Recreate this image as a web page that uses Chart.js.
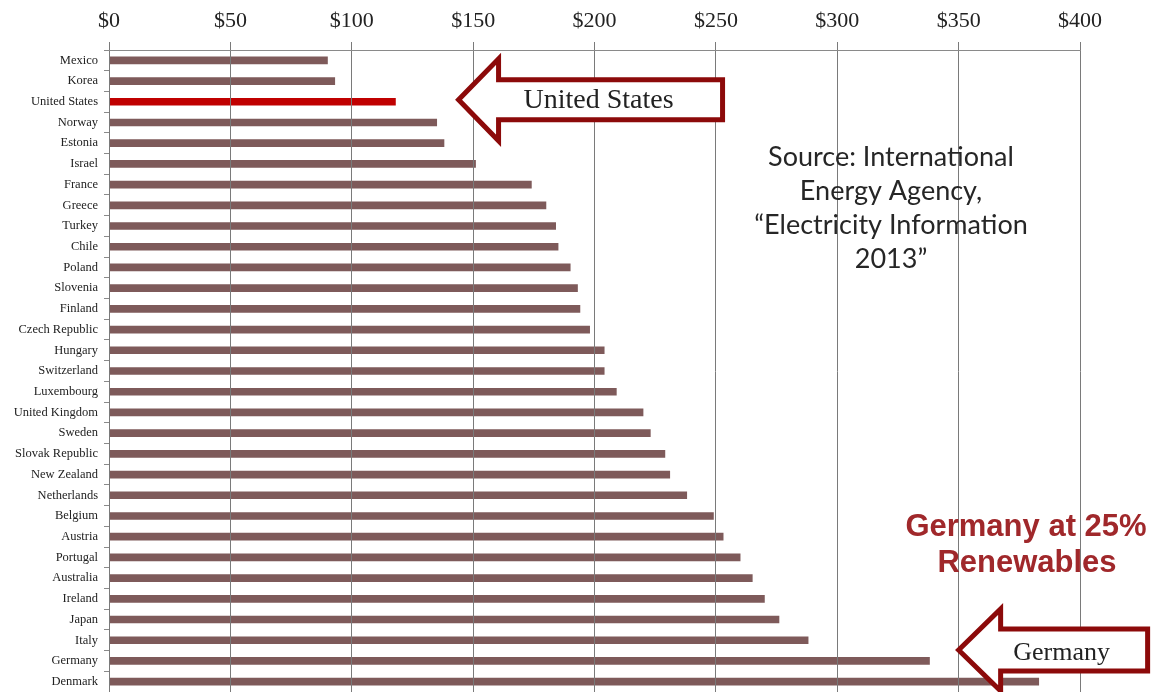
<!DOCTYPE html>
<html>
<head>
<meta charset="utf-8">
<script src="https://cdn.jsdelivr.net/npm/chart.js@4/dist/chart.umd.min.js"></script>
<style>
  html, body { margin: 0; padding: 0; background: #fff; overflow: hidden; }
  #wrap { width: 1154px; height: 692px; position: relative; }
</style>
</head>
<body>
<div id="wrap"><canvas id="c" width="1154" height="692"></canvas></div>
<script>
// Residential electricity price by country, dollars per MWh
const countries = [
  'Mexico', 'Korea', 'United States', 'Norway', 'Estonia', 'Israel', 'France',
  'Greece', 'Turkey', 'Chile', 'Poland', 'Slovenia', 'Finland', 'Czech Republic',
  'Hungary', 'Switzerland', 'Luxembourg', 'United Kingdom', 'Sweden',
  'Slovak Republic', 'New Zealand', 'Netherlands', 'Belgium', 'Austria',
  'Portugal', 'Australia', 'Ireland', 'Japan', 'Italy', 'Germany', 'Denmark'
];
const prices = [
  90, 93, 118, 135, 138, 151, 174,
  180, 184, 185, 190, 193, 194, 198,
  204, 204, 209, 220, 223,
  229, 231, 238, 249, 253,
  260, 265, 270, 276, 288, 338, 383
];
const highlighted = 'United States';
const axisMin = 0;
const axisMax = 400;
const axisStep = 50;

const sourceLines = ['Source: International', 'Energy Agency,', '\u201CElectricity Information', '2013\u201D'];
const germanyNote = ['Germany at 25%', 'Renewables'];
const usCallout = { country: 'United States', value: 144, label: 'United States' };
const deCallout = { country: 'Germany', value: 350, label: 'Germany' };

const BAR = '#7e5a5a';
const BAR_HI = '#c00000';
const ARROW = '#8c0a0a';

// Draws a left-pointing block arrow whose tip sits at (tx, ty)
function blockArrow(ctx, tx, ty, headLen, headHalf, shaftHalf, shaftLen) {
  ctx.beginPath();
  ctx.moveTo(tx, ty);
  ctx.lineTo(tx + headLen, ty - headHalf);
  ctx.lineTo(tx + headLen, ty - shaftHalf);
  ctx.lineTo(tx + shaftLen, ty - shaftHalf);
  ctx.lineTo(tx + shaftLen, ty + shaftHalf);
  ctx.lineTo(tx + headLen, ty + shaftHalf);
  ctx.lineTo(tx + headLen, ty + headHalf);
  ctx.closePath();
  ctx.fillStyle = '#ffffff';
  ctx.fill();
  ctx.lineWidth = 5;
  ctx.lineJoin = 'miter';
  ctx.strokeStyle = ARROW;
  ctx.stroke();
}

const annotations = {
  id: 'annotations',
  afterDraw(chart) {
    const { ctx, scales: { x, y } } = chart;
    ctx.save();

    // United States callout
    const usX = x.getPixelForValue(usCallout.value);
    const usY = y.getPixelForValue(countries.indexOf(usCallout.country)) - 2;
    blockArrow(ctx, usX, usY, 40, 41, 20, 264);
    ctx.fillStyle = '#222';
    ctx.font = '28px "Liberation Serif", "DejaVu Serif", serif';
    ctx.textAlign = 'center';
    ctx.textBaseline = 'middle';
    ctx.fillText(usCallout.label, usX + 140, usY + 1);

    // Germany callout
    const deX = x.getPixelForValue(deCallout.value);
    const deY = y.getPixelForValue(countries.indexOf(deCallout.country)) - 11;
    blockArrow(ctx, deX, deY, 42, 41, 21, 189);
    ctx.fillStyle = '#222';
    ctx.font = '26px "Liberation Serif", "DejaVu Serif", serif';
    ctx.fillText(deCallout.label, deX + 103, deY + 3);

    // Data source note
    ctx.fillStyle = '#262626';
    ctx.font = '27px Lato, "Open Sans", sans-serif';
    sourceLines.forEach((line, i) => ctx.fillText(line, 891, 157 + i * 34));

    // Renewables note
    ctx.fillStyle = '#a0282b';
    ctx.font = 'bold 31px "Liberation Sans", Arial, sans-serif';
    ctx.fillText(germanyNote[0], 1026, 527);
    ctx.fillText(germanyNote[1], 1027, 563);

    ctx.restore();
  }
};

new Chart(document.getElementById('c'), {
  type: 'bar',
  data: {
    labels: countries,
    datasets: [{
      data: prices,
      backgroundColor: countries.map(c => c === highlighted ? BAR_HI : BAR),
      borderWidth: 0,
      barThickness: 7
    }]
  },
  options: {
    indexAxis: 'y',
    responsive: false,
    animation: false,
    devicePixelRatio: 1,
    layout: { padding: { left: 0, right: 74, top: 0, bottom: 0 } },
    plugins: { legend: { display: false }, tooltip: { enabled: false } },
    scales: {
      x: {
        position: 'top',
        min: axisMin,
        max: axisMax,
        afterFit(scale) {
          scale.height = 50;
          scale.paddingLeft = 0;
          scale.paddingRight = 0;
        },
        ticks: {
          stepSize: axisStep,
          padding: 8,
          color: '#222',
          font: { family: '"Liberation Serif", "DejaVu Serif", serif', size: 22 },
          callback: v => '$' + v
        },
        grid: { color: '#7a7a7a', lineWidth: 1, tickLength: 8, z: 1 },
        border: { color: '#8a8a8a', width: 1, z: 1 }
      },
      y: {
        afterFit(scale) {
          scale.width = 109;
          scale.paddingTop = 0;
          scale.paddingBottom = 0;
        },
        ticks: {
          padding: 6,
          color: '#222',
          autoSkip: false,
          font: { family: '"Liberation Serif", "DejaVu Serif", serif', size: 12.5 }
        },
        grid: { drawOnChartArea: false, drawTicks: true, tickLength: 5, color: '#8a8a8a' },
        border: { color: '#8a8a8a', width: 1 }
      }
    }
  },
  plugins: [annotations]
});
</script>
</body>
</html>
